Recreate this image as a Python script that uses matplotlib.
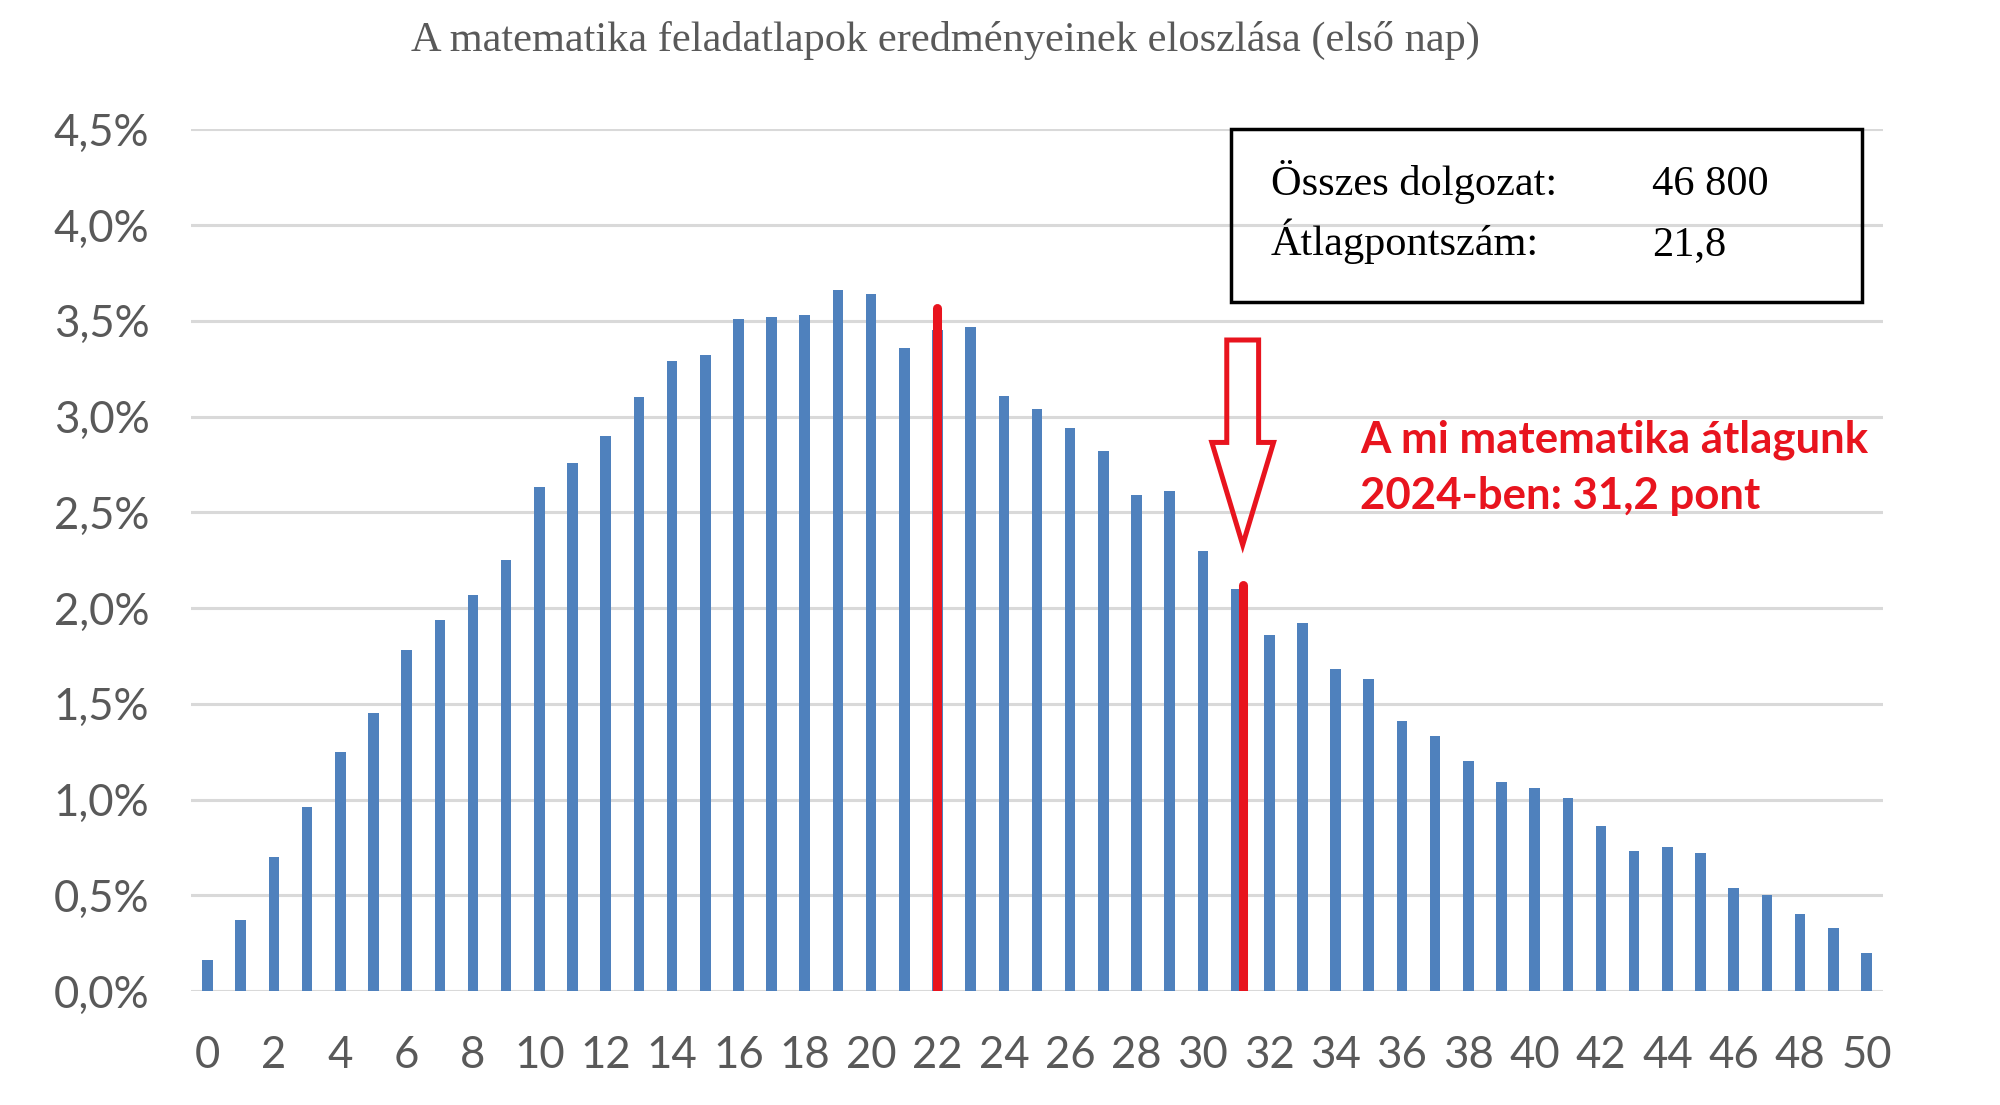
import matplotlib.pyplot as plt
import numpy as np
from matplotlib.patches import Polygon, Rectangle

# share of papers per score (percent), score 0..50
scores = list(range(51))
shares = [0.16, 0.37, 0.70, 0.96, 1.25, 1.45, 1.78, 1.94, 2.07, 2.25,
          2.63, 2.76, 2.90, 3.10, 3.29, 3.32, 3.51, 3.52, 3.53, 3.66,
          3.64, 3.36, 3.45, 3.47, 3.11, 3.04, 2.94, 2.82, 2.59, 2.61,
          2.30, 2.10, 1.86, 1.92, 1.68, 1.63, 1.41, 1.33, 1.20, 1.09,
          1.06, 1.01, 0.86, 0.73, 0.75, 0.72, 0.54, 0.50, 0.40, 0.33,
          0.20]

y_ticks = [0, 0.5, 1.0, 1.5, 2.0, 2.5, 3.0, 3.5, 4.0, 4.5]
y_tick_labels = ["0,0%", "0,5%", "1,0%", "1,5%", "2,0%", "2,5%", "3,0%", "3,5%", "4,0%", "4,5%"]
x_ticks = list(range(0, 51, 2))

title = "A matematika feladatlapok eredményeinek eloszlása (első nap)"
box_rows = [("Összes dolgozat:", "46 800"), ("Átlagpontszám:", "21,8")]
note_lines = ["A mi matematika átlagunk", "2024-ben: 31,2 pont"]

# red markers: (x, top of line)
avg_line = (22.0, 3.565)
our_line = (31.2, 2.12)

blue = "#4f81bd"
red = "#e8141e"
grey = "#595959"

fig = plt.figure(figsize=(20, 11.05), dpi=100)
ax = fig.add_axes([0.0955, 0.1032, 0.846, 0.7797])

ax.bar(scores, shares, width=0.32, color=blue, zorder=2)

for y in y_ticks:
    ax.axhline(y, color="#d9d9d9", lw=2.2, zorder=1)

for x, top in [avg_line, our_line]:
    ax.plot([x, x], [0, top], color=red, lw=6.5, solid_capstyle="round", zorder=3)

# hollow down arrow above our score
ax_x = our_line[0]
arrow = [(ax_x - 0.48, 3.40), (ax_x + 0.48, 3.40), (ax_x + 0.48, 2.865),
         (ax_x + 0.93, 2.865), (ax_x, 2.33), (ax_x - 0.93, 2.865),
         (ax_x - 0.48, 2.865)]
ax.add_patch(Polygon(arrow, closed=True, fill=False, edgecolor=red, lw=3.6,
                     joinstyle="miter", zorder=4))

ax.set_xlim(-0.5, 50.5)
ax.set_ylim(0, 4.5)
ax.set_yticks(y_ticks)
ax.set_yticklabels(y_tick_labels)
ax.set_xticks(x_ticks)
ax.set_xticklabels([str(v) for v in x_ticks])
ax.tick_params(axis="both", length=0, labelsize=31.5, labelcolor=grey)
ax.tick_params(axis="y", pad=30)
ax.tick_params(axis="x", pad=32)
for lab in ax.get_xticklabels() + ax.get_yticklabels():
    lab.set_family("Lato")
for s in ax.spines.values():
    s.set_visible(False)

fig.text(0.4725, 0.954, title, family="Liberation Serif", fontsize=30.5,
         color=grey, ha="center", va="baseline")

# info box
fig.patches.append(Rectangle((1231 / 2000, 1 - 302 / 1105), 631 / 2000, 173 / 1105,
                             transform=fig.transFigure, fill=False,
                             edgecolor="black", lw=2.5))
for i, (label, value) in enumerate(box_rows):
    yb = 1 - (195 + 60 * i) / 1105
    fig.text(1271 / 2000, yb, label, family="Liberation Serif", fontsize=30.5,
             color="black", va="baseline")
    fig.text(1652 / 2000, yb, value, family="Liberation Serif", fontsize=30.5,
             color="black", va="baseline")

for i, line in enumerate(note_lines):
    fig.text(1360 / 2000, 1 - (453 + 56 * i) / 1105, line, family="Lato",
             fontweight="bold", fontsize=31.5, color=red, va="baseline")

fig.savefig("out.png", dpi=100)
